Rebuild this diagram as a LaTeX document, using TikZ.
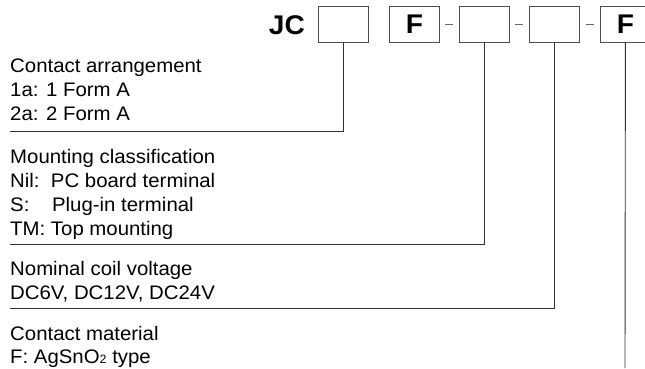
\documentclass[tikz,border=0pt]{standalone}
\usepackage{fontspec}
\setmainfont{Liberation Sans}[FakeStretch=1.04]
\newfontfamily\boldsans{Liberation Sans}[FakeBold=0.3]
\begin{document}
\begin{tikzpicture}[x=1pt,y=-1pt,
  codebox/.style={draw=black!70,line width=0.8pt,minimum width=50pt,minimum height=36pt,inner sep=0pt,anchor=north west,font=\fontsize{27}{27}\selectfont\bfseries},
  sep/.style={draw=black!60,line width=1pt},
  lead/.style={draw=black!80,line width=0.9pt},
  lbl/.style={anchor=base west,inner sep=0pt,font=\fontsize{19.6}{22}\selectfont}]
\useasboundingbox (0,0) rectangle (645,368);
\node[anchor=base east,inner sep=0pt,font=\fontsize{27}{27}\selectfont\bfseries] (jc) at (305,34) {JC};
\node[codebox] (b1) at (318,6) {};
\node[codebox] (b2) at (389,6) {F};
\node[codebox] (b3) at (459,6) {};
\node[codebox] (b4) at (529,6) {};
\node[codebox] (b5) at (600,6) {F};
\coordinate (d1a) at (445,24); \coordinate (d1b) at (453,24);
\coordinate (d2a) at (515,24); \coordinate (d2b) at (523,24);
\coordinate (d3a) at (586,24); \coordinate (d3b) at (594,24);
\draw[sep] (d1a) -- (d1b);
\draw[sep] (d2a) -- (d2b);
\draw[sep] (d3a) -- (d3b);
% section 1
\node[lbl] (t11) at (10,72) {Contact arrangement};
\node[lbl] (t12) at (10,96) {1a: 1 Form A};
\node[lbl] (t13) at (10,120) {2a: 2 Form A};
\coordinate (e1) at (10,131);
\draw[lead] (b1.south) |- (e1);
% section 2
\node[lbl] (t21) at (10,163) {Mounting classification};
\node[lbl] (t22) at (10,187) {Nil:\ \ PC board terminal};
\node[lbl] (t23) at (10,211) {S:\ \ \ \ Plug-in terminal};
\node[lbl] (t24) at (10,235) {TM: Top mounting};
\coordinate (e2) at (10,244);
\draw[lead] (b3.south) |- (e2);
% section 3
\node[lbl] (t31) at (10,275) {Nominal coil voltage};
\node[lbl] (t32) at (10,299) {DC6V, DC12V, DC24V};
\coordinate (e3) at (10,308);
\draw[lead] (b4.south) |- (e3);
% section 4
\node[lbl] (t41) at (10,340) {Contact material};
\node[lbl] (t42) at (10,363) {F: AgSnO{\fontsize{12}{12}\selectfont 2} type};
\coordinate (e4) at (625,368);
\draw[lead] (b5.south) -- (e4);
\end{tikzpicture}
\end{document}
